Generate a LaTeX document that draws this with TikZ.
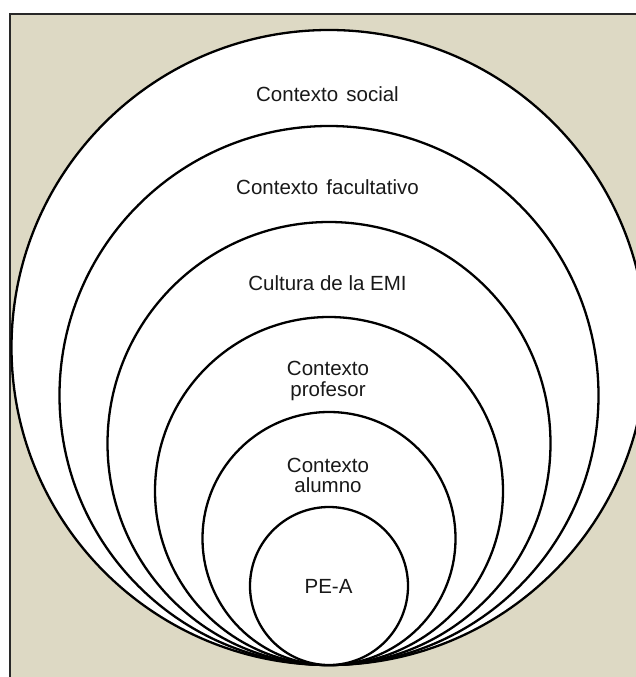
\documentclass[tikz,border=0pt]{standalone}
\usepackage{fontspec}
\setmainfont{Liberation Sans}
\definecolor{beige}{RGB}{221,217,196}
\definecolor{framegray}{RGB}{40,40,40}
\definecolor{labeltext}{RGB}{25,25,25}
\begin{document}
\begin{tikzpicture}[x=1pt,y=-1pt,
  ring/.style={circle, draw=black, line width=2.3pt, fill=white, inner sep=0pt, outer sep=0pt},
  lbl/.style={font=\fontsize{20.5}{20.5}\selectfont, text=labeltext, anchor=base, inner sep=0pt}]
\useasboundingbox (0,0) rectangle (636,677);
\clip (0,0) rectangle (636,677);
% background frame
\path[fill=beige, draw=framegray, line width=1.8pt] (10,14) rectangle (680,720);
% nested circles, all tangent at the bottom
\node[ring, minimum size=635pt] (c1) at (329,347.5) {};
\node[ring, minimum size=539pt] (c2) at (329,395.5) {};
\node[ring, minimum size=443pt] (c3) at (329,443.5) {};
\node[ring, minimum size=348pt] (c4) at (329,491) {};
\node[ring, minimum size=253pt] (c5) at (329,538.5) {};
\node[ring, minimum size=158pt] (c6) at (329,586) {};
% labels
\node[lbl] (t1) at (327.5,101) {Contexto\hspace{0.4em}social};
\node[lbl] (t2) at (327.5,194) {Contexto\hspace{0.4em}facultativo};
\node[lbl] (t3) at (327.5,290) {Cultura de la EMI};
\node[lbl] (t4a) at (328,375) {Contexto};
\node[lbl] (t4b) at (328,396) {profesor};
\node[lbl] (t5a) at (328,472) {Contexto};
\node[lbl] (t5b) at (328,492) {alumno};
\node[lbl] (t6) at (328.5,593) {PE-A};
\end{tikzpicture}
\end{document}
